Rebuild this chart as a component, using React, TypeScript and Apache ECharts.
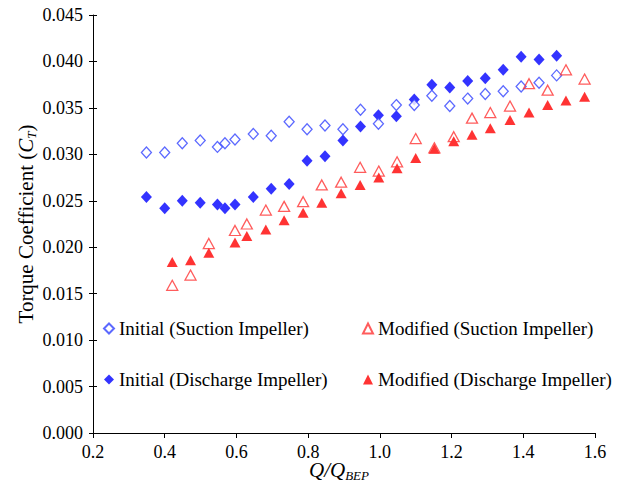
import React, { useEffect, useRef } from "react";
import * as echarts from "echarts";

const xTicks = ["0.2", "0.4", "0.6", "0.8", "1.0", "1.2", "1.4", "1.6"];
const yTicks = ["0.000", "0.005", "0.010", "0.015", "0.020", "0.025", "0.030", "0.035", "0.040", "0.045"];

const initialX = [0.349, 0.4, 0.449, 0.499, 0.547, 0.568, 0.596, 0.647, 0.697, 0.747, 0.797, 0.847, 0.897, 0.946, 0.996, 1.046, 1.096, 1.145, 1.195, 1.245, 1.294, 1.344, 1.394, 1.444, 1.493];
const initialSuctionY = [0.0302, 0.0302, 0.0312, 0.0315, 0.0308, 0.0312, 0.0316, 0.0322, 0.032, 0.0335, 0.0327, 0.0331, 0.0327, 0.0348, 0.0333, 0.0353, 0.0353, 0.0363, 0.0352, 0.036, 0.0365, 0.0368, 0.0373, 0.0377, 0.0385];
const initialDischargeY = [0.0254, 0.0242, 0.025, 0.0248, 0.0246, 0.0242, 0.0246, 0.0254, 0.0263, 0.0268, 0.0293, 0.0298, 0.0315, 0.033, 0.0342, 0.0341, 0.0359, 0.0375, 0.0372, 0.0379, 0.0382, 0.0391, 0.0405, 0.0402, 0.0406];

const modifiedX = [0.421, 0.472, 0.523, 0.596, 0.629, 0.682, 0.733, 0.786, 0.838, 0.892, 0.945, 0.997, 1.048, 1.1, 1.152, 1.206, 1.257, 1.308, 1.363, 1.416, 1.468, 1.519, 1.571];
const modifiedSuctionY = [0.0159, 0.017, 0.0204, 0.0218, 0.0225, 0.024, 0.0244, 0.0249, 0.0267, 0.027, 0.0286, 0.0282, 0.0292, 0.0317, 0.0307, 0.0319, 0.0339, 0.0345, 0.0352, 0.0376, 0.0369, 0.0391, 0.0381];
const modifiedDischargeY = [0.0184, 0.0186, 0.0194, 0.0205, 0.0212, 0.0219, 0.0229, 0.0237, 0.0248, 0.0258, 0.0267, 0.0275, 0.0285, 0.0296, 0.0306, 0.0314, 0.0321, 0.0328, 0.0337, 0.0345, 0.0353, 0.0358, 0.0362];

const seriesNames = [
  "Initial (Suction Impeller)",
  "Initial (Discharge Impeller)",
  "Modified (Suction Impeller)",
  "Modified (Discharge Impeller)",
];

const FONT = "'Liberation Serif', 'Times New Roman', serif";

const zip = (xs: number[], ys: number[]) => xs.map((x, i) => [x, ys[i]]);

export default function App() {
  const ref = useRef<HTMLDivElement>(null);
  useEffect(() => {
    document.body.style.margin = "0";
    if (!ref.current) return;
    const chart = echarts.init(ref.current, null, { renderer: "svg" });
    const yMax = parseFloat(yTicks[yTicks.length - 1]);
    const yInt = parseFloat(yTicks[1]);
    const xMin = parseFloat(xTicks[0]);
    const xMax = parseFloat(xTicks[xTicks.length - 1]);
    const legendText = { fontFamily: FONT, fontSize: 19, color: "#000" };
    const titleRich = (size: number, sub: number) => ({
      n: { fontFamily: FONT, fontSize: size, lineHeight: size + 2, fill: "#000", color: "#000" },
      i: { fontFamily: FONT, fontStyle: "italic", fontSize: size, lineHeight: size + 2, fill: "#000", color: "#000" },
      sub: { fontFamily: FONT, fontStyle: "italic", fontSize: sub, lineHeight: 8, verticalAlign: "bottom", fill: "#000", color: "#000" },
    });
    chart.setOption({
      animation: false,
      backgroundColor: "#fff",
      textStyle: { fontFamily: FONT },
      grid: { left: 93, right: 33, top: 15, bottom: 61 },
      graphic: [
        {
          type: "text",
          x: 26,
          y: 224,
          rotation: Math.PI / 2,
          style: {
            text: "{n|Torque Coefficient (}{i|C}{sub|T}{n|)}",
            align: "center",
            verticalAlign: "middle",
            textAlign: "center",
            textVerticalAlign: "middle",
            fontFamily: FONT,
            fontSize: 21,
            fill: "#000",
            rich: titleRich(21, 13),
          },
        },
        {
          type: "text",
          x: 339,
          y: 470,
          style: {
            text: "{i|Q/Q}{sub|BEP}",
            align: "center",
            verticalAlign: "middle",
            textAlign: "center",
            textVerticalAlign: "middle",
            fontFamily: FONT,
            fontSize: 21,
            fill: "#000",
            rich: titleRich(21, 13),
          },
        },
      ],
      legend: [
        {
          orient: "vertical",
          left: 98,
          top: 314,
          itemGap: 32,
          itemWidth: 10,
          itemHeight: 10,
          data: [seriesNames[0], seriesNames[1]],
          textStyle: legendText,
        },
        {
          orient: "vertical",
          left: 357,
          top: 314,
          itemGap: 32,
          itemWidth: 10,
          itemHeight: 10,
          data: [seriesNames[2], seriesNames[3]],
          textStyle: legendText,
        },
      ],
      xAxis: {
        type: "value",
        min: xMin,
        max: xMax,
        interval: 0.2,
        splitLine: { show: false },
        axisLine: { onZero: false, lineStyle: { color: "#000", width: 1 } },
        axisTick: { inside: false, length: 5, lineStyle: { color: "#000" } },
        axisLabel: {
          color: "#000",
          fontFamily: FONT,
          fontSize: 18,
          margin: 10,
          formatter: (v: number) => v.toFixed(1),
        },
      },
      yAxis: [
        {
          type: "value",
          min: 0,
          max: yMax,
          interval: yInt,
          splitLine: { show: false },
          axisLine: { lineStyle: { color: "#000", width: 1 } },
          axisTick: { inside: false, length: 4, lineStyle: { color: "#000" } },
          axisLabel: {
            color: "#000",
            fontFamily: FONT,
            fontSize: 18,
            margin: 10,
            formatter: (v: number) => v.toFixed(3),
          },
        },
        {
          type: "value",
          min: 0,
          max: yMax,
          interval: yInt,
          position: "left",
          splitLine: { show: false },
          axisLine: { show: false },
          axisTick: { inside: true, length: 4, lineStyle: { color: "#000" } },
          axisLabel: { show: false },
        },
      ],
      series: [
        {
          name: seriesNames[1],
          type: "scatter",
          symbol: "diamond",
          symbolSize: [11, 12],
          data: zip(initialX, initialDischargeY),
          itemStyle: { color: "#0000ff" },
        },
        {
          name: seriesNames[0],
          type: "scatter",
          symbol: "diamond",
          symbolSize: [10, 11],
          data: zip(initialX, initialSuctionY),
          itemStyle: { color: "#ffffff", borderColor: "#3344ff", borderWidth: 1.3 },
        },
        {
          name: seriesNames[3],
          type: "scatter",
          symbol: "triangle",
          symbolSize: [11, 10],
          data: zip(modifiedX, modifiedDischargeY),
          itemStyle: { color: "#ff0000" },
        },
        {
          name: seriesNames[2],
          type: "scatter",
          symbol: "triangle",
          symbolSize: [11, 10],
          data: zip(modifiedX, modifiedSuctionY),
          itemStyle: { color: "rgba(255,255,255,0)", borderColor: "#ff3333", borderWidth: 1.3 },
        },
      ],
    });
    return () => chart.dispose();
  }, []);
  return <div ref={ref} style={{ width: 628, height: 494 }} />;
}
